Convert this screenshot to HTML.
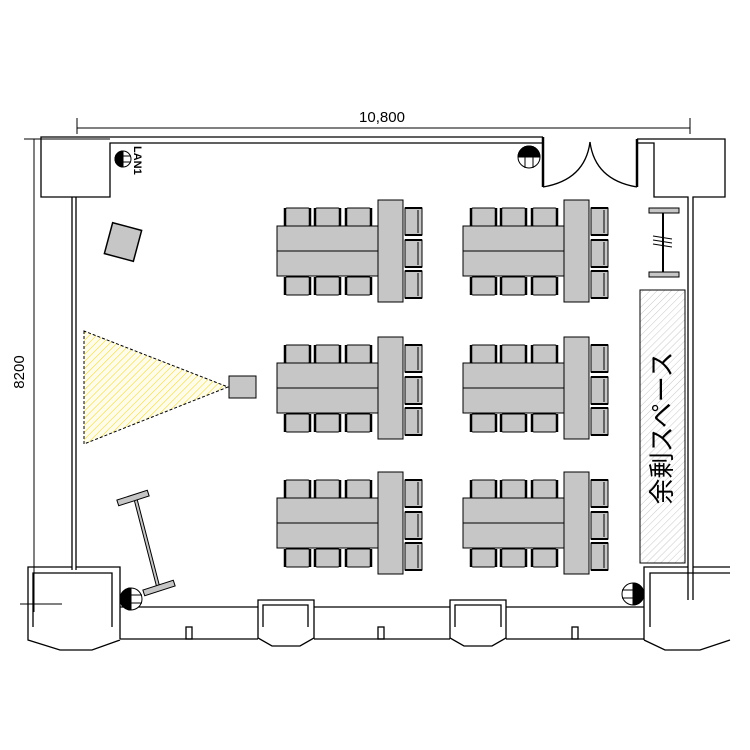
<!DOCTYPE html>
<html><head><meta charset="utf-8"><style>body{margin:0;background:#fff}svg{display:block}</style></head>
<body>
<svg width="750" height="750" viewBox="0 0 750 750" xmlns="http://www.w3.org/2000/svg">
<defs>
<pattern id="hy" width="5" height="5" patternUnits="userSpaceOnUse" patternTransform="rotate(45)">
<rect width="5" height="5" fill="#fffde8"/><line x1="0" y1="0" x2="0" y2="5" stroke="#f0e070" stroke-width="1.5"/></pattern>
<pattern id="hg" width="5" height="5" patternUnits="userSpaceOnUse" patternTransform="rotate(45)">
<rect width="5" height="5" fill="#fff"/><line x1="0" y1="0" x2="0" y2="5" stroke="#c8c8c8" stroke-width="1"/></pattern>
<g id="ch"><rect x="0" y="0" width="25" height="18" rx="2" fill="#c6c6c6" stroke="#000" stroke-width="1"/><line x1="0" y1="0" x2="0" y2="18" stroke="#000" stroke-width="2.5"/><line x1="25" y1="0" x2="25" y2="18" stroke="#000" stroke-width="2.5"/></g>
<g id="cr"><rect x="0" y="0" width="17" height="27" fill="#c6c6c6" stroke="#000" stroke-width="1"/><line x1="13" y1="2" x2="13" y2="25" stroke="#000"/><line x1="0" y1="0" x2="17" y2="0" stroke="#000" stroke-width="2"/><line x1="0" y1="27" x2="17" y2="27" stroke="#000" stroke-width="2"/></g>
<g id="grp">
<use href="#ch" x="-93" y="8"/><use href="#ch" x="-63" y="8"/><use href="#ch" x="-32" y="8"/>
<use href="#ch" x="-93" y="77"/><use href="#ch" x="-63" y="77"/><use href="#ch" x="-32" y="77"/>
<use href="#cr" x="27" y="8"/><use href="#cr" x="27" y="40"/><use href="#cr" x="27" y="71"/>
<rect x="-101" y="26" width="101" height="50" fill="#c6c6c6" stroke="#000"/>
<line x1="-101" y1="51" x2="0" y2="51" stroke="#000"/>
<rect x="0" y="0" width="25" height="102" fill="#c6c6c6" stroke="#000"/>
</g>
</defs>
<g fill="none" stroke="#000" stroke-width="1.3">
<line x1="77" y1="128" x2="690" y2="128" stroke-width="1"/>
<line x1="77" y1="118" x2="77" y2="134" stroke-width="1"/>
<line x1="690" y1="118" x2="690" y2="134" stroke-width="1"/>
<line x1="24" y1="139" x2="110" y2="139" stroke-width="1"/>
<line x1="34" y1="139" x2="34" y2="612" stroke-width="1"/>
<line x1="20" y1="604" x2="62" y2="604" stroke-width="1"/>
<polyline points="543,137 41,137 41,197 110,197 110,143 543,143"/>
<line x1="543" y1="137" x2="543" y2="187" stroke-width="2.5"/>
<line x1="637" y1="139" x2="637" y2="187" stroke-width="2.5"/>
<polyline points="637,139 725,139 725,197 693,197 693,600"/>
<polyline points="637,143 654,143 654,197 688,197 688,600"/>
<path d="M543,187 Q585,180 590,142"/>
<path d="M637,187 Q595,180 590,142"/>
<line x1="72" y1="197" x2="72" y2="570"/>
<line x1="76" y1="197" x2="76" y2="570"/>
<polyline points="28,627 28,567 72,567"/><polyline points="76,567 120,567 120,639"/>
<polyline points="33,627 33,573 112,573 112,627"/>
<polyline points="28,627 28,640 60,650 92,650 120,640"/>
<line x1="120" y1="607" x2="258" y2="607"/><line x1="120" y1="639" x2="258" y2="639"/>
<line x1="314" y1="607" x2="450" y2="607"/><line x1="314" y1="639" x2="450" y2="639"/>
<line x1="506" y1="607" x2="644" y2="607"/><line x1="506" y1="639" x2="644" y2="639"/>
<polyline points="258,627 258,600 314,600 314,627"/><polyline points="263,627 263,605 308,605 308,627"/>
<polyline points="258,627 258,638 272,646 300,646 314,638 314,627"/>
<polyline points="450,627 450,600 506,600 506,627"/><polyline points="455,627 455,605 501,605 501,627"/>
<polyline points="450,627 450,638 464,646 492,646 506,638 506,627"/>
<rect x="186" y="627" width="6" height="12"/><rect x="378" y="627" width="6" height="12"/><rect x="572" y="627" width="6" height="12"/>
<polyline points="644,640 644,567 688,567"/><polyline points="693,567 730,567"/>
<polyline points="650,627 650,573 730,573"/>
<polyline points="644,640 665,650 700,650 730,640"/>
</g>
<text x="382" y="122" font-family="Liberation Sans, sans-serif" font-size="15" text-anchor="middle">10,800</text>
<text transform="translate(24,372) rotate(-90)" font-family="Liberation Sans, sans-serif" font-size="15" text-anchor="middle">8200</text>
<use href="#grp" x="378" y="200"/><use href="#grp" x="564" y="200"/>
<use href="#grp" x="378" y="337"/><use href="#grp" x="564" y="337"/>
<use href="#grp" x="378" y="472"/><use href="#grp" x="564" y="472"/>
<polygon points="84,331 84,444 228,387" fill="url(#hy)" stroke="#000" stroke-dasharray="3,2"/>
<rect x="229" y="376" width="27" height="22" fill="#c6c6c6" stroke="#000"/>
<rect x="108" y="226" width="30" height="32" fill="#c6c6c6" stroke="#000" stroke-width="1.5" transform="rotate(15 123 242)"/>
<line x1="663" y1="209" x2="663" y2="276" stroke="#000" stroke-width="2"/>
<rect x="649" y="208" width="30" height="5" fill="#c6c6c6" stroke="#000"/>
<rect x="649" y="272" width="30" height="5" fill="#c6c6c6" stroke="#000"/>
<path d="M653,236 L672,239 M653,240 L672,243 M653,244 L672,247" stroke="#000" fill="none"/>
<line x1="135" y1="497" x2="159" y2="590" stroke="#000" stroke-width="4"/>
<line x1="135" y1="497" x2="159" y2="590" stroke="#c6c6c6" stroke-width="2"/>
<rect x="117" y="495" width="32" height="6" fill="#c6c6c6" stroke="#000" transform="rotate(-18 133 498)"/>
<rect x="143" y="585" width="32" height="6" fill="#c6c6c6" stroke="#000" transform="rotate(-18 159 588)"/>
<g stroke="#000" fill="#fff">
<circle cx="529" cy="157" r="11"/><path d="M518,157 a11,11 0 0 1 22,0 z" fill="#000"/><line x1="525" y1="146" x2="525" y2="168"/><line x1="533" y1="146" x2="533" y2="168"/>
<circle cx="131" cy="599" r="11"/><path d="M131,588 a11,11 0 0 0 0,22 z" fill="#000"/><line x1="120" y1="595" x2="142" y2="595"/><line x1="120" y1="603" x2="142" y2="603"/>
<circle cx="633" cy="594" r="11"/><path d="M633,583 a11,11 0 0 1 0,22 z" fill="#000"/><line x1="622" y1="590" x2="644" y2="590"/><line x1="622" y1="598" x2="644" y2="598"/>
<circle cx="123" cy="159" r="8"/><path d="M123,151 a8,8 0 0 0 0,16 z" fill="#000"/><line x1="115" y1="156" x2="131" y2="156"/><line x1="115" y1="162" x2="131" y2="162"/>
</g>
<text transform="translate(134,146) rotate(90)" font-family="Liberation Sans, sans-serif" font-size="11" font-weight="bold">LAN1</text>
<rect x="640" y="290" width="45" height="273" fill="url(#hg)" stroke="#000"/>
<text transform="translate(671,428) rotate(-90)" font-family="Liberation Sans, 'Noto Sans CJK JP', sans-serif" font-size="26" text-anchor="middle">余剰スペース</text>
</svg>
</body></html>
